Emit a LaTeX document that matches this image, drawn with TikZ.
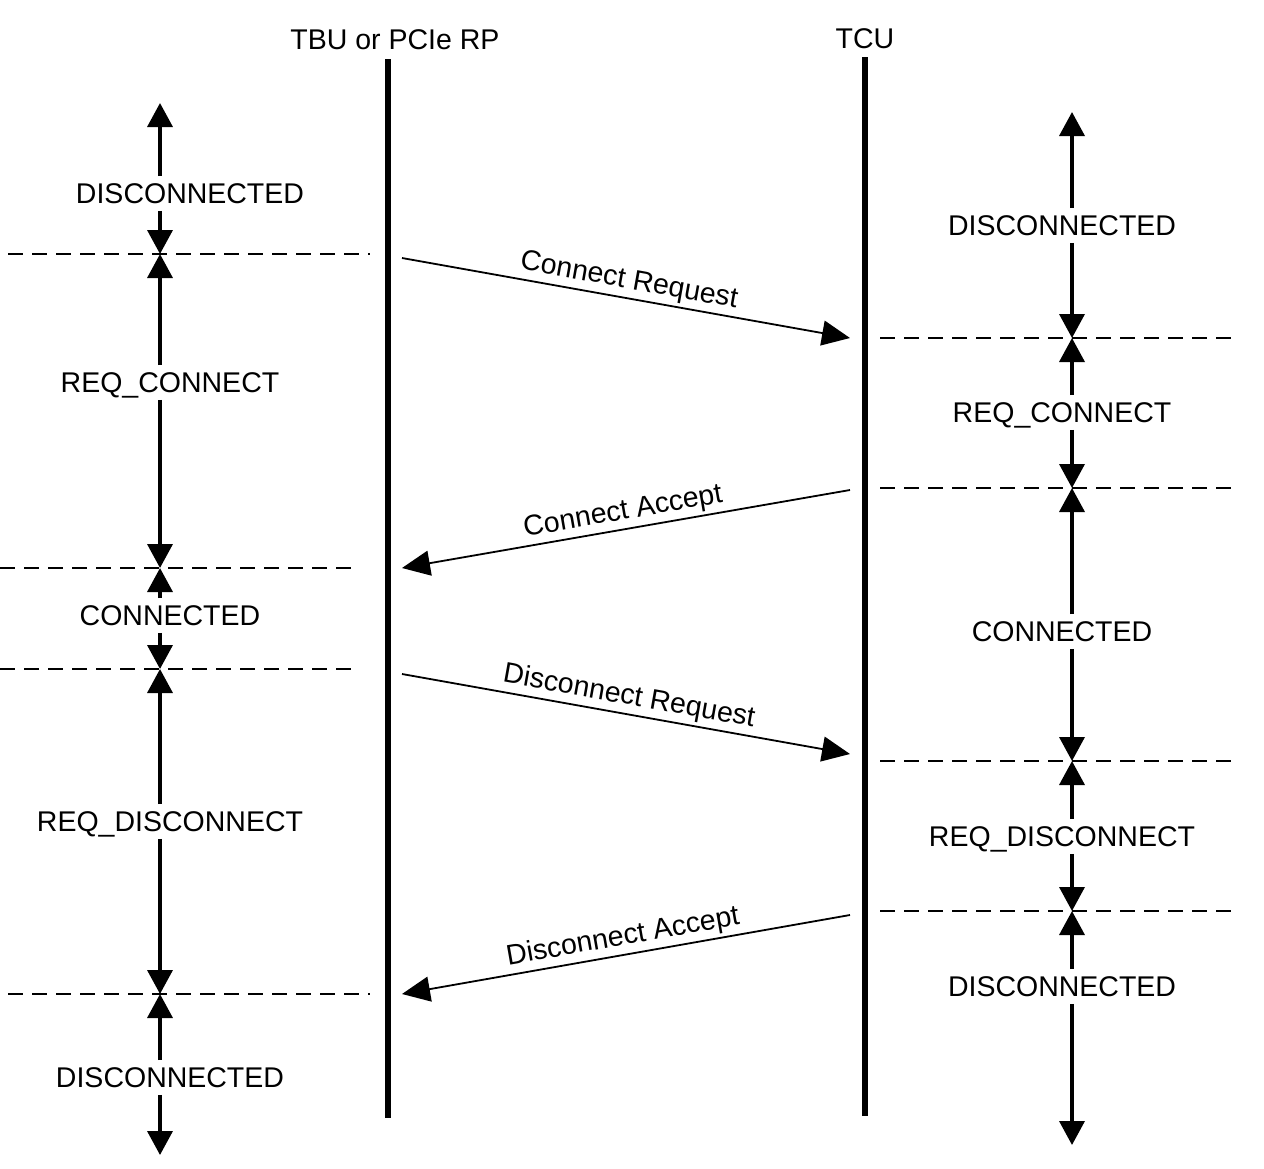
\documentclass[tikz,border=0pt]{standalone}
\usepackage{fontspec}
\setmainfont{Liberation Sans}
\usetikzlibrary{arrows.meta}
\begin{document}
\begin{tikzpicture}[x=1pt,y=-1pt,
  lbl/.style={font=\fontsize{28.5}{34}\selectfont, inner xsep=2pt, inner ysep=7pt, text height=20.4pt, text depth=0pt},
  hdr/.style={font=\fontsize{28.5}{34}\selectfont, inner sep=0pt, text height=20.4pt, text depth=0pt},
  lifeline/.style={line width=6pt},
  stline/.style={line width=3.6pt, -{Triangle[length=24pt,width=25pt]}},
  msg/.style={line width=1.8pt},
  msgtip/.style={{Triangle[length=28pt,width=25pt]}},
  sep/.style={line width=1.5pt, dash pattern=on 15pt off 9pt},
  mlbl/.style={font=\fontsize{28.5}{34}\selectfont, inner sep=3pt, sloped, above}
]
\useasboundingbox (0,0) rectangle (1264,1168);

% headers and lifelines
\node[hdr] (h1) at (395,39) {TBU or PCIe RP};
\node[hdr] (h2) at (865,38) {TCU};
\coordinate (A1) at (388,59);  \coordinate (A2) at (388,1118);
\coordinate (B1) at (865,57);  \coordinate (B2) at (865,1116);
\draw[lifeline] (A1) -- (A2);
\draw[lifeline] (B1) -- (B2);

% left state boundaries
\coordinate (L0) at (160,103);
\coordinate (L1) at (160,254);
\coordinate (L2) at (160,568);
\coordinate (L3) at (160,669);
\coordinate (L4) at (160,994);
\coordinate (L5) at (160,1155);

% right state boundaries
\coordinate (R0) at (1072,112);
\coordinate (R1) at (1072,338);
\coordinate (R2) at (1072,488);
\coordinate (R3) at (1072,761);
\coordinate (R4) at (1072,911);
\coordinate (R5) at (1072,1145);

% dashed separators
\coordinate (dl1a) at (8,254);  \coordinate (dl1b) at (370,254);
\coordinate (dl2a) at (0,568);  \coordinate (dl2b) at (355,568);
\coordinate (dl3a) at (0,669);  \coordinate (dl3b) at (355,669);
\coordinate (dl4a) at (8,994);  \coordinate (dl4b) at (370,994);
\draw[sep] (dl1a) -- (dl1b);
\draw[sep] (dl2a) -- (dl2b);
\draw[sep] (dl3a) -- (dl3b);
\draw[sep] (dl4a) -- (dl4b);
\coordinate (dr1a) at (880,338);  \coordinate (dr1b) at (1238,338);
\coordinate (dr2a) at (880,488);  \coordinate (dr2b) at (1238,488);
\coordinate (dr3a) at (880,761);  \coordinate (dr3b) at (1238,761);
\coordinate (dr4a) at (880,911);  \coordinate (dr4b) at (1238,911);
\draw[sep] (dr1a) -- (dr1b);
\draw[sep] (dr2a) -- (dr2b);
\draw[sep] (dr3a) -- (dr3b);
\draw[sep] (dr4a) -- (dr4b);

% left state labels
\node[lbl] (ls1) at (190,193.5) {DISCONNECTED};
\node[lbl] (ls2) at (170,382.5) {REQ\_CONNECT};
\node[lbl] (ls3) at (170,615.5) {CONNECTED};
\node[lbl] (ls4) at (170,821.5) {REQ\_DISCONNECT};
\node[lbl] (ls5) at (170,1077.5) {DISCONNECTED};

% right state labels
\node[lbl] (rs1) at (1062,225.5) {DISCONNECTED};
\node[lbl] (rs2) at (1062,412.5) {REQ\_CONNECT};
\node[lbl] (rs3) at (1062,631.5) {CONNECTED};
\node[lbl] (rs4) at (1062,836.5) {REQ\_DISCONNECT};
\node[lbl] (rs5) at (1062,986.5) {DISCONNECTED};

% left state arrows
\foreach \n/\a/\b in {ls1/L0/L1, ls2/L1/L2, ls3/L2/L3, ls4/L3/L4, ls5/L4/L5}{
  \draw[stline] (\n.north -| \a) -- (\a);
  \draw[stline] (\n.south -| \a) -- (\b);
}
% right state arrows
\foreach \n/\a/\b in {rs1/R0/R1, rs2/R1/R2, rs3/R2/R3, rs4/R3/R4, rs5/R4/R5}{
  \draw[stline] (\n.north -| \a) -- (\a);
  \draw[stline] (\n.south -| \a) -- (\b);
}

% messages
\coordinate (m1a) at (402,258); \coordinate (m1b) at (850,338);
\coordinate (m2a) at (402,568); \coordinate (m2b) at (850,490);
\coordinate (m3a) at (402,674); \coordinate (m3b) at (850,754);
\coordinate (m4a) at (402,994); \coordinate (m4b) at (850,915);
\draw[msg, -{Triangle[length=28pt,width=25pt]}] (m1a) -- node[mlbl] (ml1) {Connect Request} (m1b);
\draw[msg, {Triangle[length=28pt,width=25pt]}-] (m2a) -- node[mlbl] (ml2) {Connect Accept} (m2b);
\draw[msg, -{Triangle[length=28pt,width=25pt]}] (m3a) -- node[mlbl] (ml3) {Disconnect Request} (m3b);
\draw[msg, {Triangle[length=28pt,width=25pt]}-] (m4a) -- node[mlbl] (ml4) {Disconnect Accept} (m4b);
\end{tikzpicture}
\end{document}
